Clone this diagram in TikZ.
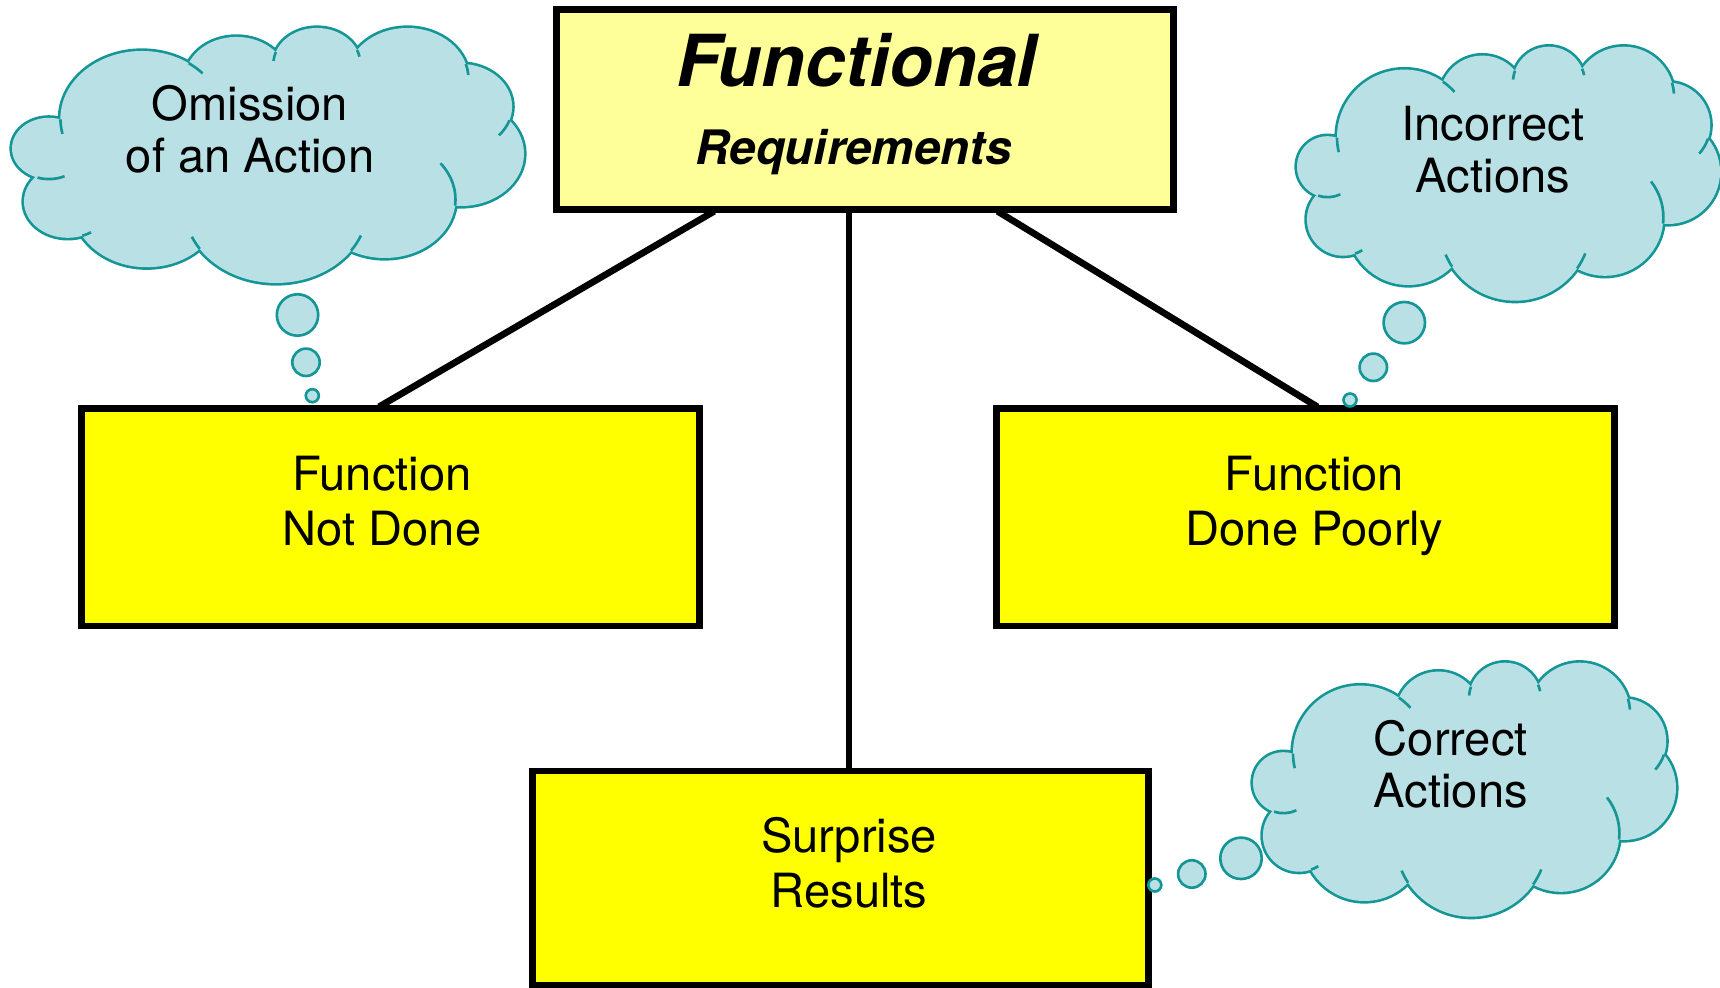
\documentclass[tikz,border=0pt]{standalone}
\usepackage{fontspec}
\setmainfont{TeX Gyre Heros}
\usetikzlibrary{calc}

\definecolor{cloudblue}{RGB}{185,224,228}
\definecolor{cloudrim}{RGB}{20,150,150}
\definecolor{paleyellow}{RGB}{255,255,153}
\definecolor{boxyellow}{RGB}{255,255,0}

% puffs of the cloud (centre x / centre y / radius), cloud is 423 x 254
\newcommand\cloudpuffs{107.4/163.7/67.4, 185.4/202.3/42.8, 251.9/218.0/36.0,
  326.7/203.6/50.4, 370.6/175.6/42.6, 371.0/128.7/52.0, 308.0/83.3/58.4,
  218.2/75.6/75.6, 111.4/76.9/61.2, 46.1/81.2/36.2, 30.5/134.0/30.5}
% little curls inside (centre x / centre y / radius / from / to)
\newcommand\cloudcurls{107.4/163.7/67.4/180.6/193, 107.4/163.7/67.4/55.1/42,
  251.9/218.0/36.0/160.5/175, 251.9/218.0/36.0/22.9/12,
  326.7/203.6/50.4/16.6/4, 370.6/175.6/42.6/-18.6/-42,
  308.0/83.3/58.4/-6.2/38, 218.2/75.6/75.6/325/338,
  218.2/75.6/75.6/213.4/203, 46.1/81.2/36.2/-70.7/-58,
  30.5/134.0/30.5/252/295}

\tikzset{
  pics/thought/.style={code={
    \foreach \cx/\cy/\rr in \cloudpuffs
      \draw[cloudrim, line width=1.5pt] (\cx,\cy) circle[radius=\rr];
    \fill[cloudblue] (40,163) -- (146,219) -- (218,230) -- (285,232) -- (375,218)
      -- (411,162) -- (366,77) -- (280,32) -- (155,34) -- (58,47) -- (21.6,105.4) -- cycle;
    \foreach \cx/\cy/\rr in \cloudpuffs
      \fill[cloudblue] (\cx,\cy) circle[radius=\rr];
    \foreach \cx/\cy/\rr/\sa/\sb in \cloudcurls
      \draw[cloudrim, line width=0.75pt] (\cx,\cy) ++(\sa:\rr) arc[start angle=\sa, end angle=\sb, radius=\rr];
  }}
}

\begin{document}
\begin{tikzpicture}[x=0.01cm, y=0.01cm,
  fbox/.style={draw, line width=1.9pt, fill=boxyellow, inner sep=0pt},
  boxtext/.style={anchor=north, inner sep=0pt, align=center, font=\fontsize{13.4}{15.65}\selectfont},
  cloudtext/.style={anchor=north, inner sep=0pt, align=center, font=\fontsize{13.4}{14.8}\selectfont},
  link/.style={line width=1.9pt, shorten <=-1pt, shorten >=-1pt},
  bubble/.style={draw=cloudrim, fill=cloudblue, line width=0.75pt}]
\useasboundingbox (0,0) rectangle (1720,987);

% boxes
\node[fbox, fill=paleyellow, minimum width=6.16cm, minimum height=2.00cm] (req) at (865,877.3) {};
\node[fbox, minimum width=6.17cm, minimum height=2.175cm] (notdone) at (390.5,469.8) {};
\node[fbox, minimum width=6.17cm, minimum height=2.175cm] (poorly) at (1305.5,469.8) {};
\node[fbox, minimum width=6.15cm, minimum height=2.145cm] (surprise) at (840.5,108.75) {};

\node[anchor=north, inner sep=0pt, font=\fontsize{20.4}{24}\selectfont\bfseries\itshape] (reqtitle) at (856.5,954) {Functional};
\node[anchor=base, inner sep=0pt, font=\fontsize{13.5}{16}\selectfont\bfseries\itshape] (reqsub) at (853.5,822) {Requirements};
\node[boxtext] (notdonetext) at (382,532) {Function\\Not Done};
\node[boxtext] (poorlytext) at (1314.5,532) {Function\\Done Poorly};
\node[boxtext] (surprisetext) at (849,170) {Surprise\\Results};

% connectors
\draw[link] ($(req.south west)!0.253!(req.south east)$) -- (notdone.north -| notdonetext);
\draw[link] (req.south -| surprisetext) -- (surprise.north -| surprisetext);
\draw[link] ($(req.south west)!0.7175!(req.south east)$) -- (poorly.north -| poorlytext);

% thought clouds
\pic[xscale=1.2104, yscale=1.004] at (12,704) {thought};
\node[cloudtext] (omission) at (250,902) {Omission\\of an Action};
\draw[bubble] (297.5,672) circle[radius=20.7];
\draw[bubble] (306,624.7) circle[radius=13.7];
\draw[bubble] (312.3,591.3) circle[radius=6.5];

\pic at (1297,686.3) {thought};
\node[cloudtext] (incorrect) at (1493,882) {Incorrect\\Actions};
\draw[bubble] (1404.3,664.3) circle[radius=20.7];
\draw[bubble] (1373.3,619.7) circle[radius=13.7];
\draw[bubble] (1350,587) circle[radius=6.5];

\pic at (1253,70.3) {thought};
\node[cloudtext] (correct) at (1450.8,267) {Correct\\Actions};
\draw[bubble] (1241,128.7) circle[radius=20.7];
\draw[bubble] (1191.8,113) circle[radius=13.7];
\draw[bubble] (1154.8,102) circle[radius=6.5];
\end{tikzpicture}
\end{document}
